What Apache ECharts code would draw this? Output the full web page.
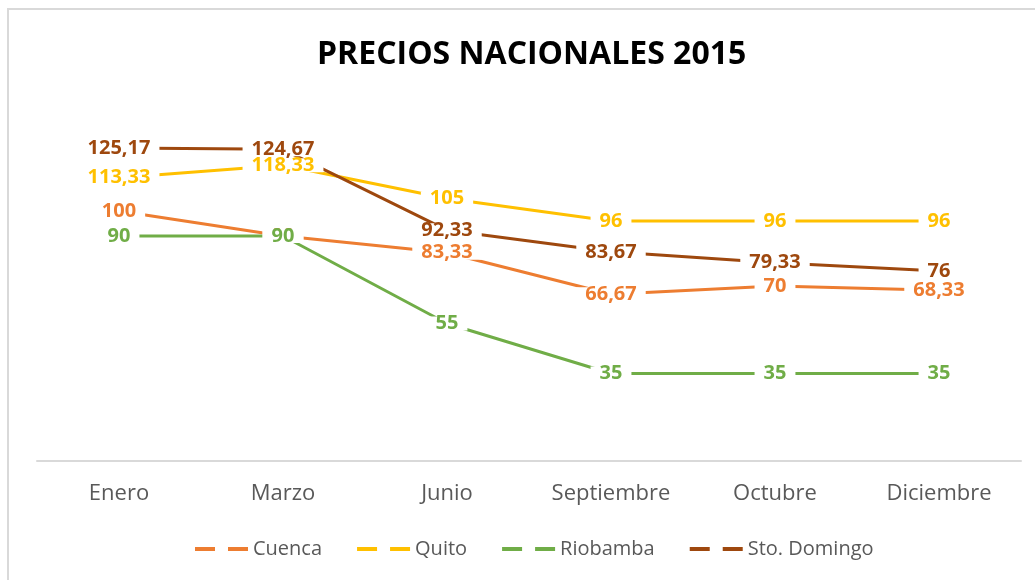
<!DOCTYPE html>
<html>
<head>
<meta charset="utf-8">
<script src="https://cdn.jsdelivr.net/npm/echarts@6/dist/echarts.min.js"></script>
<style>
  html, body { margin: 0; padding: 0; background: #fff; }
  #chart { width: 1035px; height: 580px; }
</style>
</head>
<body>
<div id="chart"></div>
<script>
const months = ['Enero', 'Marzo', 'Junio', 'Septiembre', 'Octubre', 'Diciembre']
const cuenca = [100, 90, 83.33, 66.67, 70, 68.33]
const quito = [113.33, 118.33, 105, 96, 96, 96]
const riobamba = [90, 90, 55, 35, 35, 35]
const stoDomingo = [125.17, 124.67, 92.33, 83.67, 79.33, 76]

const FONT = 'Open Sans'
const dashIcon = 'path://M0,0H20V4H0Z M33,0H53V4H33Z'

const chart = echarts.init(document.getElementById('chart'))

// etiquetas centradas sobre el punto, con fondo blanco que corta la línea
const mkSeries = (name, data, color) => ({
  name,
  type: 'line',
  data,
  symbol: 'circle',
  symbolSize: 0,
  showSymbol: true,
  lineStyle: { color, width: 3 },
  itemStyle: { color },
  label: {
    show: true,
    position: 'inside',
    color,
    fontFamily: FONT,
    fontWeight: 'bold',
    fontSize: 20,
    lineHeight: 14,
    backgroundColor: '#fff',
    padding: [0, 9],
    formatter: (p) => String(p.value).replace('.', ','),
  },
  emphasis: { disabled: true },
})

chart.setOption({
  backgroundColor: '#fff',
  animation: false,
  title: {
    text: 'PRECIOS NACIONALES 2015',
    left: 312,
    top: 34,
    textStyle: { fontFamily: FONT, fontWeight: 'bold', fontSize: 32, color: '#000' },
  },
  legend: {
    bottom: 16,
    left: 190,
    icon: dashIcon,
    itemWidth: 53,
    itemHeight: 4,
    itemGap: 35,
    textStyle: { fontFamily: FONT, fontSize: 20, color: '#595959' },
  },
  grid: { left: 37, right: 14, top: 111, bottom: 119, containLabel: false },
  xAxis: {
    type: 'category',
    data: months,
    boundaryGap: true,
    axisLine: { lineStyle: { color: '#d9d9d9', width: 2 } },
    axisTick: { show: false },
    axisLabel: { color: '#595959', fontFamily: FONT, fontSize: 22, margin: 22 },
  },
  yAxis: {
    type: 'value',
    min: 0,
    max: 140,
    show: false,
  },
  graphic: [
    {
      type: 'rect',
      shape: { x: 8, y: 9, width: 1100, height: 700 },
      style: { fill: 'none', stroke: '#d9d9d9', lineWidth: 2 },
      silent: true,
      z: -1,
    },
  ],
  series: [
    mkSeries('Cuenca', cuenca, '#ed7d31'),
    mkSeries('Quito', quito, '#ffc000'),
    mkSeries('Riobamba', riobamba, '#70ad47'),
    mkSeries('Sto. Domingo', stoDomingo, '#9e480e'),
  ],
})
</script>
</body>
</html>
